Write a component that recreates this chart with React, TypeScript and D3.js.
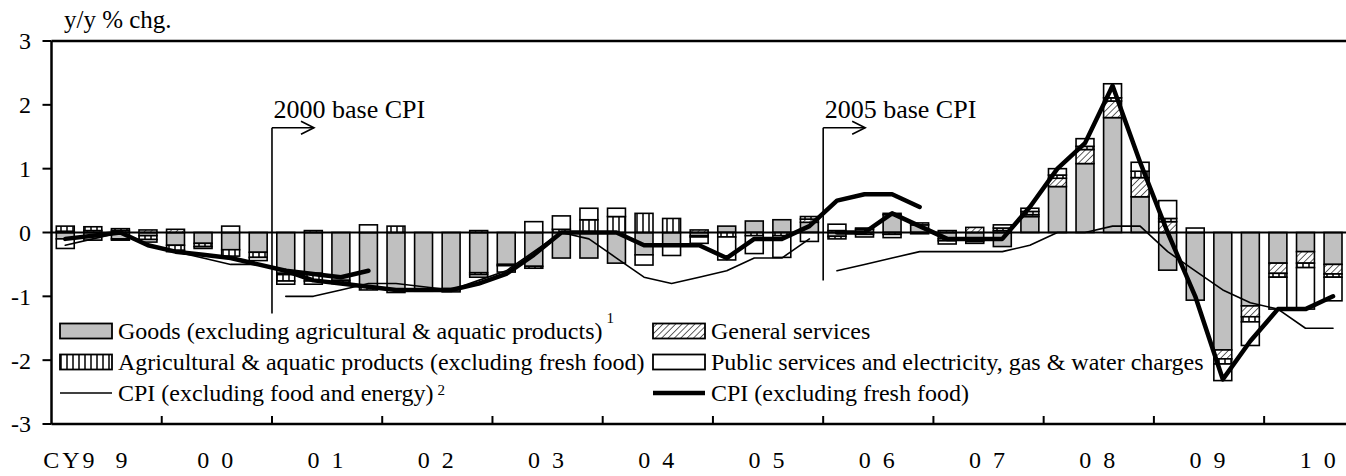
import React from 'react';
import * as d3 from 'd3';

// quarterly categories, 1999Q1 .. 2010Q3
const years = ['1999', '2000', '2001', '2002', '2003', '2004', '2005', '2006', '2007', '2008', '2009', '2010'];
const quarters = years.flatMap((yr) => ['Q1', 'Q2', 'Q3', 'Q4'].map((q) => yr + q)).slice(0, 47);
const yearLabels = ['CY9  9', '0 0', '0 1', '0 2', '0 3', '0 4', '0 5', '0 6', '0 7', '0 8', '0 9', '1 0'];
const yTicks = [-3, -2, -1, 0, 1, 2, 3];

// contributions, y/y % chg.
const goods = [
  -0.1, -0.12, -0.1, -0.05, -0.2, -0.17, -0.27, -0.31, -0.64, -0.64, -0.75, -0.85,
  -0.9, -0.9, -0.88, -0.63, -0.5, -0.53, -0.4, -0.4, -0.48, -0.35, -0.2, -0.05,
  0.1, 0.18, 0.2, 0.16, -0.06, 0.05, 0.28, 0.12, -0.1, -0.1, -0.22, 0.25,
  0.72, 1.08, 1.8, 0.56, -0.59, -1.06, -1.84, -1.15, -0.48, -0.3, -0.5,
];
const generalServices = [
  0.02, 0.03, 0.03, 0.04, 0.05, 0, 0, 0, -0.02, 0.03, 0, 0,
  0, 0, 0, 0.03, 0, 0, 0, 0, 0, 0, 0, 0.04,
  0, 0, 0, 0.05, 0.03, 0.02, 0.02, 0.03, 0.03, 0.08, 0.03, 0.03,
  0.13, 0.22, 0.26, 0.3, 0.17, 0, -0.14, -0.17, -0.16, -0.18, -0.15,
];
const agricultural = [
  0.08, 0.06, 0.03, -0.06, -0.08, -0.05, -0.1, -0.08, -0.1, -0.12, -0.03, -0.05,
  0.1, 0, -0.02, -0.03, -0.02, -0.03, 0.05, 0.2, 0.25, 0.3, 0.22, -0.02,
  -0.07, -0.05, -0.05, 0.04, -0.04, -0.03, -0.03, 0, -0.03, -0.04, 0.04, 0.05,
  0.05, 0.05, 0.05, 0.1, 0.05, 0, -0.08, -0.08, -0.06, -0.07, -0.05,
];
const publicServices = [
  -0.15, 0, -0.02, -0.04, -0.02, -0.03, 0.1, -0.05, -0.05, -0.05, -0.02, 0.12,
  -0.04, -0.02, -0.03, -0.04, -0.1, 0.17, 0.21, 0.18, 0.13, -0.16, -0.16, -0.1,
  -0.36, -0.28, -0.34, -0.14, 0.1, -0.04, -0.05, -0.02, -0.05, -0.03, 0.05, 0.05,
  0.1, 0.12, 0.22, 0.14, 0.28, 0.07, -0.26, -0.37, -0.5, -0.65, -0.37,
];

// CPI (excluding fresh food), one piece per base year
const cpiExFresh1995 = [-0.1, -0.05, 0.0, -0.2, -0.3, -0.35, -0.4, -0.5, -0.6, -0.65, -0.7, -0.6];
const cpiExFresh2000 = [
  -0.6, -0.75, -0.8, -0.85, -0.9, -0.9, -0.9, -0.8, -0.65, -0.35, 0.0, 0.0,
  0.0, -0.2, -0.2, -0.2, -0.4, -0.1, -0.1, 0.1, 0.5, 0.6, 0.6, 0.4,
];
const cpiExFresh2005 = [0.0, 0.0, 0.3, 0.1, -0.1, -0.1, -0.1, 0.4, 1.0, 1.4, 2.3, 1.1, 0.0, -1.0, -2.3, -1.7, -1.2, -1.2, -1.0];
// CPI (excluding food and energy)
const cpiCore1995 = [-0.2, -0.1, 0.0, -0.2, -0.3, -0.4, -0.5, -0.5];
const cpiCore2000 = [-1.0, -1.0, -0.9, -0.8, -0.8, -0.85, -0.9, -0.75, -0.6, -0.3, 0.0, -0.1, -0.4, -0.7, -0.8, -0.7, -0.6, -0.4, -0.4, -0.1];
const cpiCore2005 = [-0.6, -0.5, -0.4, -0.3, -0.3, -0.3, -0.3, -0.2, 0.0, 0.0, 0.1, 0.1, -0.3, -0.6, -0.9, -1.1, -1.2, -1.5, -1.5];

const W = 1346;
const H = 476;
const FONT = '"Liberation Serif", "Times New Roman", serif';
const X0 = 51.5;
const STEP = 27.56;

const keys = ['goods', 'generalServices', 'agricultural', 'publicServices'];
const fills: Record<string, string> = {
  goods: '#c0c0c0',
  generalServices: 'url(#hatch)',
  agricultural: 'url(#stripes)',
  publicServices: '#ffffff',
};

const lines = [
  { values: cpiExFresh1995, start: '1999Q1', width: 4.5 },
  { values: cpiExFresh2000, start: '2001Q1', width: 4.5 },
  { values: cpiExFresh2005, start: '2006Q1', width: 4.5 },
  { values: cpiCore1995, start: '1999Q1', width: 1.6 },
  { values: cpiCore2000, start: '2001Q1', width: 1.6 },
  { values: cpiCore2005, start: '2006Q1', width: 1.6 },
];

const baseChanges = [
  { label: '2000 base CPI', start: '2001Q1', bottom: -1.27 },
  { label: '2005 base CPI', start: '2006Q1', bottom: -0.75 },
];
const arrowLevel = 1.64;

const legendItems = [
  { label: 'Goods (excluding agricultural & aquatic products)', note: '1', noteDy: -16, fill: fills.goods, col: 0, row: 0 },
  { label: 'General services', fill: fills.generalServices, col: 1, row: 0 },
  { label: 'Agricultural & aquatic products (excluding fresh food)', fill: fills.agricultural, col: 0, row: 1 },
  { label: 'Public services and electricity, gas & water charges', fill: fills.publicServices, col: 1, row: 1 },
  { label: 'CPI (excluding food and energy)', note: '2', noteDy: -6, line: 1.6, col: 0, row: 2 },
  { label: 'CPI (excluding fresh food)', line: 4.5, col: 1, row: 2 },
];

export default function App() {
  const x = d3
    .scaleBand<string>()
    .domain(quarters)
    .range([X0, X0 + STEP * quarters.length])
    .paddingInner(0.35)
    .paddingOuter(0.175);
  const y = d3.scaleLinear().domain([-3, 3]).range([424, 41]);
  const cx = (q: string) => (x(q) ?? 0) + x.bandwidth() / 2;
  const slotStart = (q: string) => (x(q) ?? 0) - (x.step() - x.bandwidth()) / 2;
  const right = W;

  const table = quarters.map((q, i) => ({
    q,
    goods: goods[i],
    generalServices: generalServices[i],
    agricultural: agricultural[i],
    publicServices: publicServices[i],
  }));
  const stacked = d3.stack<any>().keys(keys).offset(d3.stackOffsetDiverging)(table);

  const linePath = (values: number[], start: string) => {
    const s = quarters.indexOf(start);
    return d3
      .line<number>()
      .x((_, k) => cx(quarters[s + k]))
      .y((d) => y(d))(values) ?? '';
  };

  const yearStarts = years.map((yr) => yr + 'Q1');
  const legendX = [60, 653];
  const legendY = [331, 362, 393];

  return (
    <svg width={W} height={H} style={{ position: 'absolute', left: 0, top: 0, background: '#fff' }} fontFamily={FONT}>
      <defs>
        <pattern id="hatch" patternUnits="userSpaceOnUse" width={4.5} height={4.5} patternTransform="rotate(45)">
          <rect width={4.5} height={4.5} fill="#fff" />
          <line x1={0} y1={0} x2={0} y2={4.5} stroke="#3a3a3a" strokeWidth={1.6} />
        </pattern>
        <pattern id="stripes" patternUnits="userSpaceOnUse" width={6} height={6}>
          <rect width={6} height={6} fill="#fff" />
          <line x1={1} y1={0} x2={1} y2={6} stroke="#000" strokeWidth={1.5} />
        </pattern>
      </defs>

      {/* stacked bars */}
      {stacked.map((s) => (
        <g key={s.key}>
          {s.map((d, i) =>
            d[0] === d[1] ? null : (
              <rect
                key={i}
                x={x(quarters[i])}
                y={y(Math.max(d[0], d[1]))}
                width={x.bandwidth()}
                height={Math.abs(y(d[0]) - y(d[1]))}
                fill={fills[s.key]}
                stroke="#000"
                strokeWidth={1.6}
              />
            )
          )}
        </g>
      ))}

      {/* zero line */}
      <line x1={X0} x2={right} y1={y(0)} y2={y(0)} stroke="#000" strokeWidth={2} />

      {/* CPI lines */}
      {lines.map((l, i) => (
        <path
          key={i}
          d={linePath(l.values, l.start)}
          fill="none"
          stroke="#000"
          strokeWidth={l.width}
          strokeLinejoin="round"
          strokeLinecap="round"
        />
      ))}

      {/* base change markers */}
      {baseChanges.map((b) => {
        const bx = slotStart(b.start);
        const ay = y(arrowLevel);
        const tip = bx + 42;
        return (
          <g key={b.label} stroke="#000" strokeWidth={1.6} fill="none">
            <line x1={bx} x2={bx} y1={y(b.bottom)} y2={ay} />
            <line x1={bx} x2={tip} y1={ay} y2={ay} />
            <polyline points={`${tip - 13},${ay - 6.5} ${tip},${ay} ${tip - 13},${ay + 6.5}`} />
            <text x={bx + 1.5} y={ay - 10} fontSize={26} fill="#000" stroke="none">
              {b.label}
            </text>
          </g>
        );
      })}

      {/* frame and axes */}
      <line x1={X0} x2={right} y1={y(3)} y2={y(3)} stroke="#000" strokeWidth={2.5} />
      <line x1={X0} x2={right} y1={y(-3)} y2={y(-3)} stroke="#000" strokeWidth={2.5} />
      <line x1={X0} x2={X0} y1={y(3)} y2={y(-3)} stroke="#000" strokeWidth={2.5} />
      {yTicks.map((t) => (
        <g key={t}>
          <line x1={X0 - 9} x2={X0} y1={y(t)} y2={y(t)} stroke="#000" strokeWidth={2} />
          <text x={31} y={y(t)} dy="0.35em" textAnchor="end" fontSize={24}>
            {t}
          </text>
        </g>
      ))}
      {yearStarts.slice(1).map((q) => (
        <line key={q} x1={slotStart(q)} x2={slotStart(q)} y1={y(-3)} y2={y(-3) - 8} stroke="#000" strokeWidth={2} />
      ))}
      {yearLabels.map((lab, i) => {
        const c = slotStart(yearStarts[i]) + 2 * x.step();
        return (
          <text
            key={lab}
            x={i === 0 ? c + 24 : c}
            y={468}
            textAnchor={i === 0 ? 'end' : 'middle'}
            fontSize={24}
            letterSpacing={3}
            style={{ whiteSpace: 'pre' }}
          >
            {lab}
          </text>
        );
      })}
      <text x={64} y={28} fontSize={25}>
        y/y % chg.
      </text>

      {/* legend */}
      {legendItems.map((it) => {
        const lx = legendX[it.col];
        const ly = legendY[it.row];
        return (
          <g key={it.label}>
            {it.line ? (
              <line x1={lx} x2={lx + 52} y1={ly} y2={ly} stroke="#000" strokeWidth={it.line} />
            ) : (
              <rect x={lx} y={ly - 7.5} width={52} height={15} fill={it.fill} stroke="#000" strokeWidth={1.8} />
            )}
            <text x={lx + 58} y={ly + 8} fontSize={24}>
              {it.label}
              {it.note ? (
                <tspan dx={4} dy={it.noteDy} fontSize={15}>
                  {it.note}
                </tspan>
              ) : null}
            </text>
          </g>
        );
      })}
    </svg>
  );
}
